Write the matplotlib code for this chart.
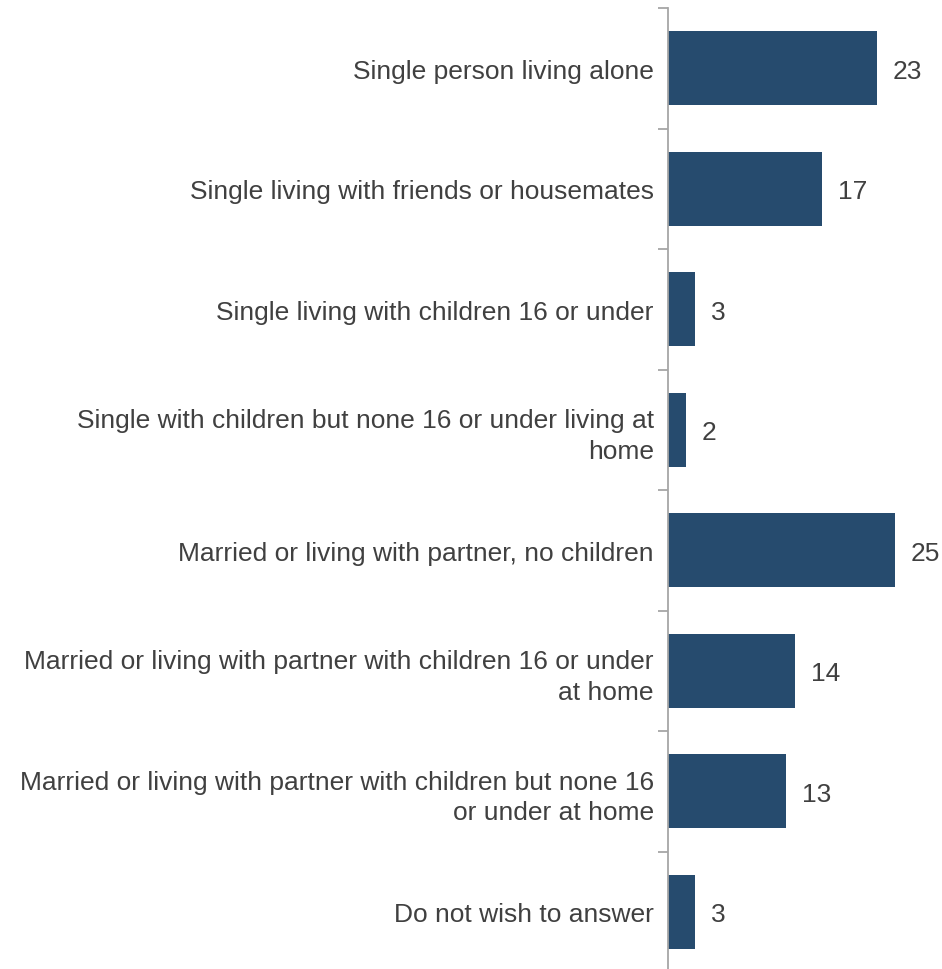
import matplotlib.pyplot as plt

categorias = [
    "Single person living alone",
    "Single living with friends or housemates",
    "Single living with children 16 or under",
    "Single with children but none 16 or under living at\nhome",
    "Married or living with partner, no children",
    "Married or living with partner with children 16 or under\nat home",
    "Married or living with partner with children but none 16\nor under at home",
    "Do not wish to answer",
]
valores = [23, 17, 3, 2, 25, 14, 13, 3]

COLOR_BARRA = "#264B6E"
COLOR_TEXTO = "#404040"
COLOR_EJE = "#A6A6A6"
TAM = 19

plt.rcParams["font.family"] = ["Liberation Sans", "DejaVu Sans"]

fig = plt.figure(figsize=(9.42, 9.70), dpi=100)
ax = fig.add_axes([667.7 / 942, -3 / 970, 272 / 942, 964 / 970])

pos = list(range(len(categorias)))
ax.barh(pos, valores, height=0.615, color=COLOR_BARRA)
ax.set_ylim(len(categorias) - 0.5, -0.5)
ax.set_xlim(0, 272 / 9.08)

for y, v in zip(pos, valores):
    ax.text(v + 1.75, y, str(v), va="center_baseline", ha="left", fontsize=TAM, color=COLOR_TEXTO)

ax.set_yticks(pos)
ax.set_yticklabels(categorias, fontsize=TAM, color=COLOR_TEXTO, linespacing=1.33)
ax.tick_params(axis="y", which="major", length=0, pad=10)
ax.set_yticks([p + 0.5 for p in [-1] + pos], minor=True)
ax.tick_params(axis="y", which="minor", length=7, color=COLOR_EJE, width=1.3)

ax.set_xticks([])
for lado in ["top", "right", "bottom"]:
    ax.spines[lado].set_visible(False)
ax.spines["left"].set_color(COLOR_EJE)
ax.spines["left"].set_linewidth(1.3)

fig.savefig("out.png", dpi=100)
